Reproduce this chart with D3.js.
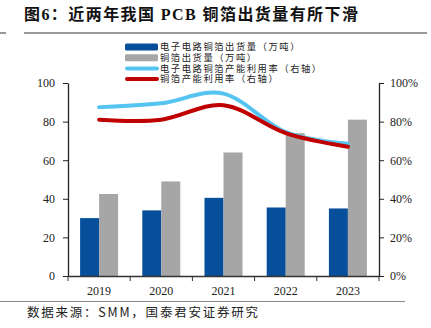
<!DOCTYPE html>
<html><head><meta charset="utf-8">
<script src="https://cdn.jsdelivr.net/npm/d3@7"></script>
<style>body{margin:0;background:#fff}svg{display:block}</style>
</head><body>
<svg id="c" width="431" height="328"></svg>
<script>
const years = ["2019","2020","2021","2022","2023"];
const elecFoil = [30, 34, 40.5, 35.5, 35];          // 电子电路铜箔出货量（万吨）
const foilShip = [42.5, 49, 64, 74, 81];            // 铜箔出货量（万吨）
const elecUtil = [0.875, 0.895, 0.945, 0.745, 0.685]; // 电子电路铜箔产能利用率
const foilUtil = [0.81, 0.81, 0.885, 0.74, 0.67];   // 铜箔产能利用率
const leftTicks = [0,20,40,60,80,100];
const rightTicks = [0,0.2,0.4,0.6,0.8,1.0];
const legendNames = ["电子电路铜箔出货量（万吨）","铜箔出货量（万吨）","电子电路铜箔产能利用率（右轴）","铜箔产能利用率（右轴）"];

const svg = d3.select("#c");
const serif = "'Liberation Serif','Noto Sans CJK SC',serif";
const cjk = "'Noto Sans CJK SC','Liberation Serif',sans-serif";
const L = 68, R = 379, T = 83, B = 276;
const x = d3.scaleBand().domain(years).range([L, R]).padding(0);
const yL = d3.scaleLinear().domain([0,100]).range([B, T]);
const yR = d3.scaleLinear().domain([0,1]).range([B, T]);

// title
svg.append("text").attr("x",24).attr("y",20).attr("font-family",serif).attr("font-weight","bold")
  .attr("font-size",16).attr("fill","#111").attr("textLength",334).attr("lengthAdjust","spacing")
  .text("图6：近两年我国 PCB 铜箔出货量有所下滑");
svg.append("line").attr("x1",24).attr("x2",427).attr("y1",33).attr("y2",33).attr("stroke","#333").attr("stroke-width",1.2);
svg.append("line").attr("x1",0).attr("x2",6).attr("y1",33).attr("y2",33).attr("stroke","#333").attr("stroke-width",1);

// bars
const bw = 19;
const g = svg.append("g");
g.selectAll("rect.a").data(years).join("rect").attr("x",d=>x(d)+x.bandwidth()/2-bw).attr("width",bw)
  .attr("y",(d,i)=>yL(elecFoil[i])).attr("height",(d,i)=>B-yL(elecFoil[i])).attr("fill","#074F9B");
g.selectAll("rect.b").data(years).join("rect").attr("x",d=>x(d)+x.bandwidth()/2).attr("width",bw)
  .attr("y",(d,i)=>yL(foilShip[i])).attr("height",(d,i)=>B-yL(foilShip[i])).attr("fill","#A6A6A6");

// lines
const line = (arr)=>d3.line().x((d,i)=>x(years[i])+x.bandwidth()/2).y(d=>yR(d)).curve(d3.curveCatmullRom.alpha(0))(arr);
svg.append("path").attr("d",line(elecUtil)).attr("fill","none").attr("stroke","#56C4F0").attr("stroke-width",4).attr("stroke-linecap","round");
svg.append("path").attr("d",line(foilUtil)).attr("fill","none").attr("stroke","#C00000").attr("stroke-width",4).attr("stroke-linecap","round");

// axes
const ax = svg.append("g").attr("transform",`translate(0,${B})`)
  .call(d3.axisBottom(x).tickSize(0).tickPadding(10));
ax.select(".domain").attr("stroke","#333").attr("stroke-width",1.3);
ax.selectAll("text").attr("font-family",serif).attr("font-size",12).attr("fill","#222");
svg.append("g").selectAll("line").data(d3.range(years.length+1)).join("line")
  .attr("x1",i=>L+i*x.step()).attr("x2",i=>L+i*x.step()).attr("y1",B).attr("y2",B+5).attr("stroke","#333");

const al = svg.append("g").attr("transform",`translate(${L},0)`)
  .call(d3.axisLeft(yL).tickValues(leftTicks).tickSize(5).tickSizeOuter(0).tickPadding(8));
const ar = svg.append("g").attr("transform",`translate(${R},0)`)
  .call(d3.axisRight(yR).tickValues(rightTicks).tickFormat(d3.format(".0%")).tickSize(5).tickSizeOuter(0).tickPadding(6));
[al,ar].forEach(a=>{
  a.select(".domain").attr("stroke","#222").attr("stroke-width",1.3);
  a.selectAll(".tick line").attr("stroke","#222");
  a.selectAll("text").attr("font-family",serif).attr("font-size",12).attr("fill","#222");
});

// legend
const lg = svg.append("g");
const ly0 = 47, ld = 10.7;
const sw = [
  {t:"rect", c:"#074F9B"}, {t:"rect", c:"#A6A6A6"}, {t:"line", c:"#56C4F0"}, {t:"line", c:"#C00000"}
];
legendNames.forEach((n,i)=>{
  const yy = ly0 + i*ld;
  if (sw[i].t==="rect") lg.append("rect").attr("x",125).attr("y",yy-3.5).attr("width",33).attr("height",7).attr("rx",1.5).attr("fill",sw[i].c);
  else lg.append("line").attr("x1",127).attr("x2",157).attr("y1",yy).attr("y2",yy).attr("stroke",sw[i].c).attr("stroke-width",4).attr("stroke-linecap","round");
  lg.append("text").attr("x",160).attr("y",yy).attr("dy","0.35em").attr("font-family",serif).attr("font-size",9.3)
    .attr("letter-spacing",1.55).attr("fill","#222").text(n);
});

// bottom
svg.append("line").attr("x1",0).attr("x2",405).attr("y1",301.5).attr("y2",301.5).attr("stroke","#888").attr("stroke-width",1);
svg.append("text").attr("x",27).attr("y",317).attr("font-family",cjk).attr("font-size",12.5).attr("fill","#222")
  .attr("textLength",231).attr("lengthAdjust","spacing")
  .text("数据来源：SMM，国泰君安证券研究");
</script>
</body></html>
